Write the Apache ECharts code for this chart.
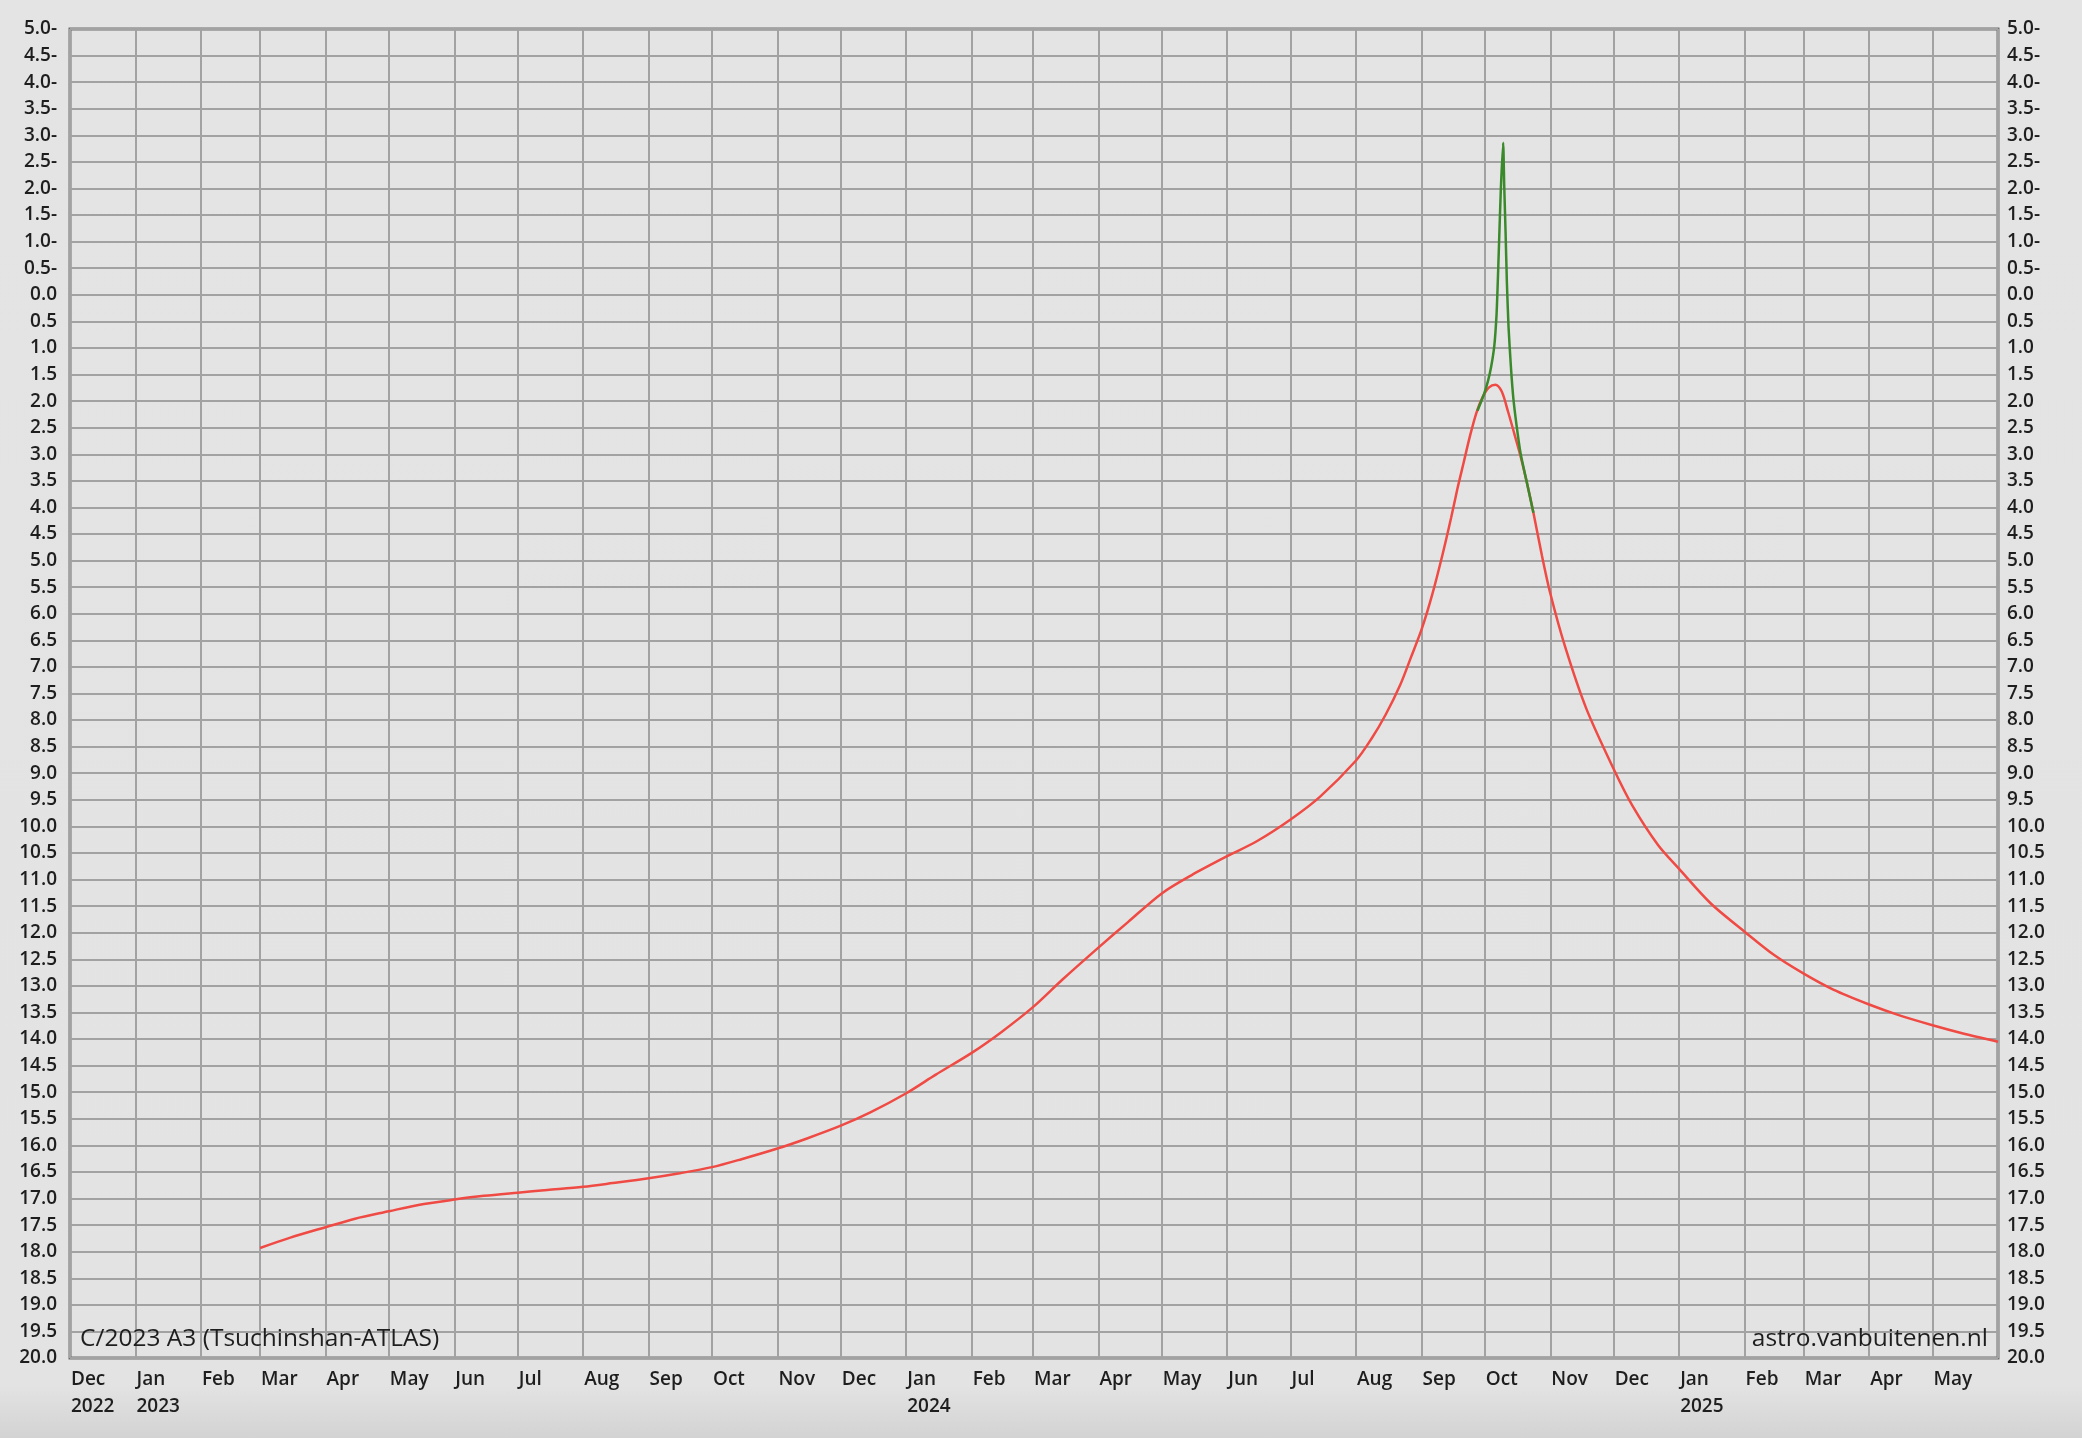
<!DOCTYPE html>
<html><head><meta charset="utf-8">
<script src="https://cdn.jsdelivr.net/npm/echarts@6/dist/echarts.min.js"></script>
<style>
html,body{margin:0;padding:0;width:2082px;height:1438px;overflow:hidden;
background:linear-gradient(to bottom,#e4e4e4 0px,#e3e3e3 1385px,#d3d3d3 1438px);}
#c{width:2082px;height:1438px;}
</style></head><body><div id="c"></div>
<script>
// ---- data ----
const monthLabels = ['Jan','Feb','Mar','Apr','May','Jun','Jul','Aug','Sep','Oct','Nov','Dec'];
const titleText = 'C/2023 A3 (Tsuchinshan-ATLAS)';
const creditText = 'astro.vanbuitenen.nl';
const xStart = '2022-12-01';
const xEnd = '2025-06-01';

const redDates = ['2023-03-01','2023-03-15','2023-04-01','2023-04-15','2023-05-01','2023-05-15','2023-06-01','2023-06-15',
'2023-07-01','2023-07-15','2023-08-01','2023-08-15','2023-09-01','2023-09-15','2023-10-01','2023-10-15','2023-11-01',
'2023-11-15','2023-12-01','2023-12-15','2024-01-01','2024-01-15','2024-02-01','2024-02-15','2024-03-01','2024-03-15',
'2024-04-01','2024-04-15','2024-05-01','2024-05-15','2024-06-01','2024-06-15','2024-07-01','2024-07-15','2024-08-01',
'2024-08-08','2024-08-15','2024-08-22','2024-08-27','2024-09-01','2024-09-06','2024-09-11','2024-09-15','2024-09-18',
'2024-09-21','2024-09-24','2024-09-27','2024-09-30','2024-10-03','2024-10-06','2024-10-09','2024-10-12','2024-10-15',
'2024-10-18','2024-10-21','2024-10-24','2024-10-28','2024-11-01','2024-11-08','2024-11-18','2024-12-01','2024-12-10',
'2024-12-22','2025-01-01','2025-01-16','2025-02-01','2025-02-15','2025-03-01','2025-03-15','2025-04-01','2025-04-15',
'2025-05-01','2025-05-15','2025-06-01'];
const redMags = [17.93,17.74,17.54,17.38,17.24,17.12,17.02,16.95,
16.89,16.84,16.78,16.71,16.62,16.53,16.41,16.26,16.06,
15.87,15.63,15.38,15.02,14.67,14.26,13.87,13.40,12.88,
12.28,11.80,11.26,10.92,10.56,10.28,9.87,9.44,8.76,
8.37,7.90,7.33,6.82,6.30,5.65,4.88,4.20,3.65,
3.15,2.65,2.22,1.92,1.74,1.69,1.82,2.20,2.62,
3.05,3.55,4.10,4.90,5.62,6.62,7.78,8.92,9.62,
10.35,10.80,11.45,11.98,12.42,12.77,13.07,13.35,13.55,
13.74,13.89,14.05];

const greenDates = ['2024-09-27 12','2024-09-30 12','2024-10-02 12','2024-10-04 00','2024-10-05 12','2024-10-06 12',
'2024-10-07 00','2024-10-07 18','2024-10-08 14','2024-10-09 16','2024-10-10 04','2024-10-10 20','2024-10-11 10',
'2024-10-12 05','2024-10-13 08','2024-10-14 12','2024-10-16 00','2024-10-18 00','2024-10-21 00','2024-10-24 00'];
const greenMags = [2.18,1.88,1.62,1.35,0.95,0.40,
-0.10,-1.00,-2.00,-2.86,-2.05,-1.15,-0.25,
0.60,1.35,1.95,2.45,3.00,3.55,4.10];

// ---- helpers ----
function toTime(s){
  const p = s.split(/[- ]/).map(Number);
  return Date.UTC(p[0], p[1]-1, p[2], p[3]||0);
}
function pairs(d, v){ return d.map((x,i)=>[toTime(x), v[i]]); }

const FONT = '"Open Sans", "DejaVu Sans", sans-serif';
const TXT = '#1e1e1e';
const GRIDC = '#a2a2a2';
const DAY = 86400000;

function yFmt(v){
  if (Math.abs(v) < 1e-9) return '0.0';
  return v < 0 ? Math.abs(v).toFixed(1) + '-' : v.toFixed(1);
}
const minT = toTime(xStart), maxT = toTime(xEnd);
function xFmt(v){
  if (v >= maxT - DAY) return '';
  const d = new Date(v);
  const m = d.getUTCMonth();
  const name = monthLabels[m];
  if (m === 0 || Math.abs(v - minT) < DAY) return name + '\n' + d.getUTCFullYear();
  return name;
}

const chart = echarts.init(document.getElementById('c'), null, {renderer:'canvas'});
chart.setOption({
  useUTC: true,
  animation: false,
  backgroundColor: 'transparent',
  grid: {left:70, top:29, width:1928, height:1329, show:true, borderColor:'#6e6e6e', borderWidth:3, backgroundColor:'transparent'},
  xAxis: {
    type:'time', min:minT, max:maxT,
    minInterval: 30*DAY, maxInterval: 30*DAY, splitNumber: 31,
    axisLine:{show:false}, axisTick:{show:false},
    splitLine:{show:true, lineStyle:{color:GRIDC, width:2}},
    axisLabel:{formatter:xFmt, align:'left', padding:[0,0,0,1], lineHeight:27, fontSize:19, fontWeight:600,
      color:TXT, fontFamily:FONT, margin:8, showMaxLabel:false, showMinLabel:true, hideOverlap:false}
  },
  yAxis: [{
    type:'value', inverse:true, min:-5, max:20, interval:0.5, position:'left',
    axisLine:{show:false}, axisTick:{show:false},
    splitLine:{show:true, lineStyle:{color:GRIDC, width:2}},
    axisLabel:{formatter:yFmt, fontSize:19, fontWeight:600, color:TXT, fontFamily:FONT, margin:13}
  },{
    type:'value', inverse:true, min:-5, max:20, interval:0.5, position:'right',
    axisLine:{show:false}, axisTick:{show:false}, splitLine:{show:false},
    axisLabel:{formatter:yFmt, fontSize:19, fontWeight:600, color:TXT, fontFamily:FONT, margin:9}
  }],
  series: [{
    type:'line', data:pairs(redDates, redMags), showSymbol:false, smooth:0.3,
    lineStyle:{color:'#f04a44', width:2.5}, z:3
  },{
    type:'line', data:pairs(greenDates, greenMags), showSymbol:false, smooth:0.2,
    lineStyle:{color:'#3a8a2c', width:2.5}, z:4
  }],
  graphic: [
    {type:'text', x:80, y:1339, z:10, style:{text:titleText, fill:TXT, font:'24.5px "Open Sans", sans-serif', textAlign:'left', textVerticalAlign:'middle'}},
    {type:'text', x:1988, y:1339, z:10, style:{text:creditText, fill:TXT, font:'24.5px "Open Sans", sans-serif', textAlign:'right', textVerticalAlign:'middle'}}
  ]
});
</script></body></html>
